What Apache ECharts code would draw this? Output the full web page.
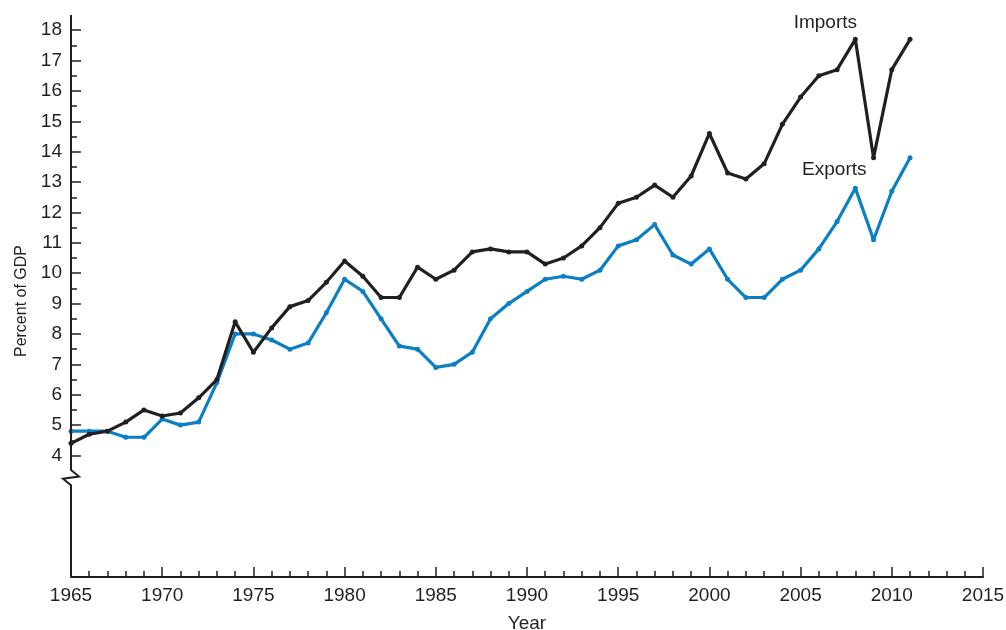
<!DOCTYPE html>
<html>
<head>
<meta charset="utf-8">
<script src="https://cdn.jsdelivr.net/npm/echarts@6/dist/echarts.min.js"></script>
<style>
html,body{margin:0;padding:0;background:#fff;}
#chart{width:1006px;height:630px;}
</style>
</head>
<body>
<div id="chart"></div>
<script>
const years = [1965,1966,1967,1968,1969,1970,1971,1972,1973,1974,1975,1976,1977,1978,1979,1980,1981,1982,1983,1984,1985,1986,1987,1988,1989,1990,1991,1992,1993,1994,1995,1996,1997,1998,1999,2000,2001,2002,2003,2004,2005,2006,2007,2008,2009,2010,2011];
const imports = [4.4,4.7,4.8,5.1,5.5,5.3,5.4,5.9,6.5,8.4,7.4,8.2,8.9,9.1,9.7,10.4,9.9,9.2,9.2,10.2,9.8,10.1,10.7,10.8,10.7,10.7,10.3,10.5,10.9,11.5,12.3,12.5,12.9,12.5,13.2,14.6,13.3,13.1,13.6,14.9,15.8,16.5,16.7,17.7,13.8,16.7,17.7];
const exportsData = [4.8,4.8,4.8,4.6,4.6,5.2,5.0,5.1,6.4,8.0,8.0,7.8,7.5,7.7,8.7,9.8,9.4,8.5,7.6,7.5,6.9,7.0,7.4,8.5,9.0,9.4,9.8,9.9,9.8,10.1,10.9,11.1,11.6,10.6,10.3,10.8,9.8,9.2,9.2,9.8,10.1,10.8,11.7,12.8,11.1,12.7,13.8];
const yMajorTicks = [4,5,6,7,8,9,10,11,12,13,14,15,16,17,18];
const yMinorTicks = [4.5,5.5,6.5,7.5,8.5,9.5,10.5,11.5,12.5,13.5,14.5,15.5,16.5,17.5];
const labelYear = 2008;

const FONT = 'Liberation Sans';
const INK = '#231f20';
const BLUE = '#0a7fc4';

function makeData(vals, name, dx, dy){
  return years.map((y,i)=>{
    const item = {value:[y, vals[i]]};
    if (y === labelYear) {
      item.label = {show:true, formatter:name, position:'top', offset:[dx,dy],
        fontFamily:FONT, fontSize:19, color:INK};
    }
    return item;
  });
}

const chart = echarts.init(document.getElementById('chart'));
const option = {
  animation:false,
  grid:{left:71, right:23, top:15, bottom:53, containLabel:false, outerBoundsMode:'none'},
  xAxis:{
    type:'value', min:1965, max:2015, interval:5,
    name:'Year', nameLocation:'middle', nameGap:37,
    nameTextStyle:{fontFamily:FONT, fontSize:19, color:INK},
    axisLine:{lineStyle:{color:INK, width:2}},
    axisTick:{inside:true, length:10, lineStyle:{color:INK, width:1.5}},
    minorTick:{show:true, splitNumber:5, length:6, lineStyle:{color:INK, width:1.5}},
    axisLabel:{fontFamily:FONT, fontSize:19, color:INK, margin:9, formatter:v=>String(v)},
    splitLine:{show:false}
  },
  yAxis:[{
    type:'value', min:0, max:18.5,
    name:'Percent of GDP', nameLocation:'middle', nameGap:40, nameRotate:90,
    nameTextStyle:{fontFamily:FONT, fontSize:16, color:INK, padding:[0,10,0,0]},
    axisLine:{show:false},
    axisTick:{show:true, inside:true, length:10, customValues:yMajorTicks, lineStyle:{color:INK, width:1.5}},
    axisLabel:{fontFamily:FONT, fontSize:19, color:INK, margin:9, customValues:yMajorTicks},
    splitLine:{show:false}
  },{
    type:'value', min:0, max:18.5, position:'left',
    axisLine:{show:false},
    axisTick:{show:true, inside:true, length:6, customValues:yMinorTicks, lineStyle:{color:INK, width:1.5}},
    axisLabel:{show:false},
    splitLine:{show:false}
  }],
  series:[{
    name:'Imports', type:'line', yAxisIndex:0,
    data:makeData(imports,'Imports',-30,0),
    symbol:'circle', symbolSize:5, showSymbol:true,
    lineStyle:{color:INK, width:3.2}, itemStyle:{color:INK}, z:3
  },{
    name:'Exports', type:'line', yAxisIndex:0,
    data:makeData(exportsData,'Exports',-21,-1),
    symbol:'circle', symbolSize:5, showSymbol:true,
    lineStyle:{color:BLUE, width:3.2}, itemStyle:{color:BLUE}, z:2
  }]
};
chart.setOption(option);

// y-axis line with a break, positioned through the axis scales
const ax = chart.convertToPixel({xAxisIndex:0}, 1965);
const yTop = chart.convertToPixel({yAxisIndex:0}, 18.5);
const yBot = chart.convertToPixel({yAxisIndex:0}, 0);
const yB1 = chart.convertToPixel({yAxisIndex:0}, 3.52);
const yB2 = chart.convertToPixel({yAxisIndex:0}, 3.02);
chart.setOption({
  graphic:[{
    type:'polyline', silent:true, z:10,
    shape:{points:[[ax,yTop],[ax,yB1],[ax+8,yB1+6.5],[ax-8,yB2-6.5],[ax,yB2],[ax,yBot]]},
    style:{stroke:INK, lineWidth:2, fill:null}
  }]
});
</script>
</body>
</html>
